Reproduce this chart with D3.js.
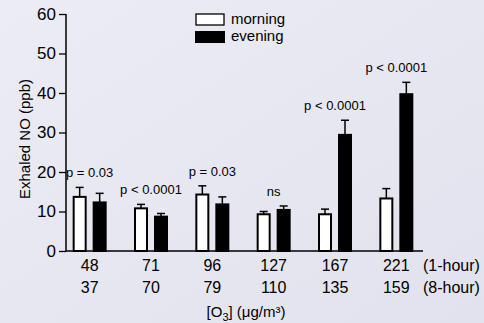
<!DOCTYPE html>
<html><head><meta charset="utf-8">
<script src="https://cdn.jsdelivr.net/npm/d3@7/dist/d3.min.js"></script>
<style>body{margin:0;background:#e8e8f1;}svg{display:block;font-family:"Liberation Sans",Arial,sans-serif;}</style>
</head><body>
<script>
const oneHour = ["48","71","96","127","167","221"];
const eightHour = ["37","70","79","110","135","159"];
const morning = [13.7, 10.8, 14.3, 9.3, 9.3, 13.3];
const morningErr = [16.1, 11.8, 16.5, 10.0, 10.6, 15.8];
const evening = [12.3, 8.7, 11.8, 10.4, 29.4, 39.7];
const eveningErr = [14.6, 9.5, 13.7, 11.4, 33.1, 42.7];
const pLabels = ["p = 0.03", "p < 0.0001", "p = 0.03", "ns", "p < 0.0001", "p < 0.0001"];
const yTicks = [0, 10, 20, 30, 40, 50, 60];

const W = 484, H = 323;
const svg = d3.select("body").append("svg").attr("width", W).attr("height", H);
const defs = svg.append("defs");
const grad = defs.append("linearGradient").attr("id","bg").attr("x1","0").attr("y1","0").attr("x2","1").attr("y2","1");
grad.append("stop").attr("offset","0").attr("stop-color","#ececf4");
grad.append("stop").attr("offset","1").attr("stop-color","#e2e2ee");
svg.append("rect").attr("width",W).attr("height",H).attr("fill","url(#bg)");

const y = d3.scaleLinear().domain([0,60]).range([251,14]);
const x = d3.scaleBand().domain(d3.range(6)).range([59,427]);
const axisX0 = 66, axisX1 = 423;
const bw = 14, off = 10;

// y axis
const yAxis = svg.append("g").attr("transform",`translate(${axisX0},0)`)
  .call(d3.axisLeft(y).tickValues(yTicks).tickSize(7).tickPadding(3));
yAxis.select(".domain").attr("stroke","#000").attr("stroke-width",1.5).attr("d",`M0,${y(60)}V${y(0)}`);
yAxis.selectAll(".tick line").attr("stroke","#000").attr("stroke-width",1.3);
yAxis.selectAll("text").attr("font-size",17).attr("font-family","Liberation Sans, Arial").attr("fill","#000");

// x axis line
svg.append("line").attr("x1",axisX0).attr("x2",axisX1).attr("y1",y(0)).attr("y2",y(0))
  .attr("stroke","#000").attr("stroke-width",1.5);

const g = svg.append("g");
const cx = i => x(i) + x.bandwidth()/2;

function drawSeries(vals, errs, dx, fill){
  // error bars
  g.selectAll(null).data(vals).enter().append("line")
    .attr("x1",(d,i)=>cx(i)+dx).attr("x2",(d,i)=>cx(i)+dx)
    .attr("y1",d=>y(d)).attr("y2",(d,i)=>y(errs[i]))
    .attr("stroke","#000").attr("stroke-width",1.5);
  g.selectAll(null).data(errs).enter().append("line")
    .attr("x1",(d,i)=>cx(i)+dx-4).attr("x2",(d,i)=>cx(i)+dx+4)
    .attr("y1",d=>y(d)).attr("y2",d=>y(d))
    .attr("stroke","#000").attr("stroke-width",1.5);
  g.selectAll(null).data(vals).enter().append("rect")
    .attr("x",(d,i)=>cx(i)+dx-bw/2+1).attr("width",bw-2)
    .attr("y",d=>y(d)).attr("height",d=>y(0)-y(d))
    .attr("fill",fill).attr("stroke","#000").attr("stroke-width",2);
}
drawSeries(morning, morningErr, -off, "#fff");
drawSeries(evening, eveningErr, off, "#000");

// p labels
svg.selectAll(null).data(pLabels).enter().append("text")
  .attr("x",(d,i)=>cx(i)).attr("y",(d,i)=>y(Math.max(morningErr[i],eveningErr[i]))-10)
  .attr("text-anchor","middle").attr("font-size",13).text(d=>d);

// x tick labels
svg.selectAll(null).data(oneHour).enter().append("text")
  .attr("x",(d,i)=>cx(i)).attr("y",271).attr("text-anchor","middle").attr("font-size",16).text(d=>d);
svg.selectAll(null).data(eightHour).enter().append("text")
  .attr("x",(d,i)=>cx(i)).attr("y",293).attr("text-anchor","middle").attr("font-size",16).text(d=>d);
svg.append("text").attr("x",423).attr("y",271).attr("font-size",16).text("(1-hour)");
svg.append("text").attr("x",423).attr("y",293).attr("font-size",16).text("(8-hour)");

// x title
const xt = svg.append("text").attr("x",246).attr("y",317).attr("text-anchor","middle").attr("font-size",15);
xt.append("tspan").text("[O");
xt.append("tspan").attr("font-size",11).attr("dy",4).text("3");
xt.append("tspan").attr("dy",-4).text("] (μg/m³)");

// y title
svg.append("text").attr("transform","translate(30,139) rotate(-90)").attr("text-anchor","middle")
  .attr("font-size",15).text("Exhaled NO (ppb)");

// legend
const leg = svg.append("g");
leg.append("rect").attr("x",196).attr("y",14).attr("width",28).attr("height",11).attr("fill","#fff").attr("stroke","#000").attr("stroke-width",1.3);
leg.append("rect").attr("x",195).attr("y",31).attr("width",30).attr("height",12).attr("fill","#000");
leg.append("text").attr("x",231).attr("y",24).attr("font-size",15).text("morning");
leg.append("text").attr("x",231).attr("y",41).attr("font-size",15).text("evening");
</script>
</body></html>
